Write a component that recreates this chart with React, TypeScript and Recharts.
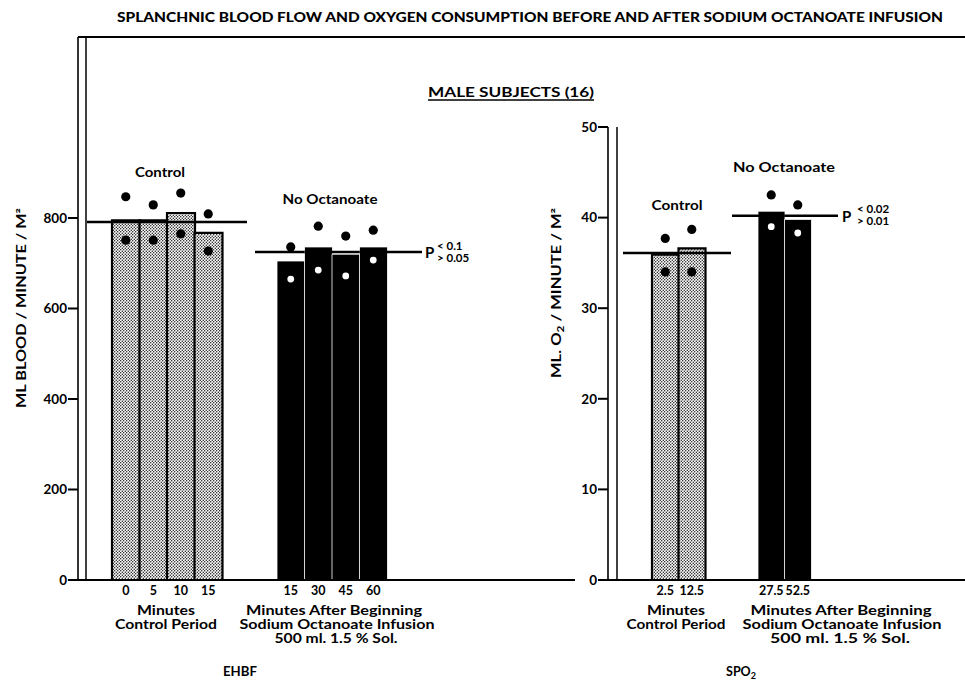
import React from 'react';
import { ComposedChart, Bar, Cell, Line, XAxis, YAxis } from 'recharts';

// EHBF panel (ml blood / minute / m2)
const ehbfControlMinutes = ['0', '5', '10', '15'];
const ehbfControlMean = [795, 795, 811, 767];
const ehbfControlHigh = [847, 829, 855, 809];
const ehbfControlLow = [751, 751, 765, 727];
const ehbfOctMinutes = ['15', '30', '45', '60'];
const ehbfOctMean = [705, 736, 720, 736];
const ehbfOctHigh = [736, 782, 760, 773];
const ehbfOctLow = [665, 685, 672, 707];
const ehbfControlLevel = 791;
const ehbfOctLevel = 725;
const ehbfTicks = [0, 200, 400, 600, 800];

// SPO2 panel (ml O2 / minute / m2)
const spo2ControlMinutes = ['2.5', '12.5'];
const spo2ControlMean = [35.9, 36.6];
const spo2ControlHigh = [37.7, 38.7];
const spo2ControlLow = [34.0, 34.0];
const spo2OctMinutes = ['27.5', '52.5'];
const spo2OctMean = [40.7, 39.8];
const spo2OctHigh = [42.5, 41.4];
const spo2OctLow = [39.0, 38.3];
const spo2ControlLevel = 36.1;
const spo2OctLevel = 40.2;
const spo2Ticks = [0, 10, 20, 30, 40, 50];

const FONT = 'Lato, "DejaVu Sans", sans-serif';
const H = 682;

type Row = {
  key: string; label: string; group: string; first: boolean; last: boolean;
  mean: number | null; hi: number | null; lo: number | null; level: number | null;
};

function buildRows(cMin: string[], cMean: number[], cHi: number[], cLo: number[], cLevel: number,
                   oMin: string[], oMean: number[], oHi: number[], oLo: number[], oLevel: number): Row[] {
  const rows: Row[] = [];
  cMin.forEach((m, i) => rows.push({
    key: 'c' + i, label: m, group: 'control', first: i === 0, last: i === cMin.length - 1,
    mean: cMean[i], hi: cHi[i], lo: cLo[i], level: cLevel,
  }));
  // two empty slots between the groups
  for (let i = 0; i < 2; i++) rows.push({
    key: 'g' + i, label: '', group: 'gap', first: false, last: false, mean: null, hi: null, lo: null, level: null,
  });
  oMin.forEach((m, i) => rows.push({
    key: 'o' + i, label: m, group: 'octanoate', first: i === 0, last: i === oMin.length - 1,
    mean: oMean[i], hi: oHi[i], lo: oLo[i], level: oLevel,
  }));
  return rows;
}

const ehbfRows = buildRows(ehbfControlMinutes, ehbfControlMean, ehbfControlHigh, ehbfControlLow, ehbfControlLevel,
  ehbfOctMinutes, ehbfOctMean, ehbfOctHigh, ehbfOctLow, ehbfOctLevel);
const spo2Rows = buildRows(spo2ControlMinutes, spo2ControlMean, spo2ControlHigh, spo2ControlLow, spo2ControlLevel,
  spo2OctMinutes, spo2OctMean, spo2OctHigh, spo2OctLow, spo2OctLevel);

const makeDot = (kind: 'hi' | 'lo') => (props: any) => {
  const { cx, cy, payload, index } = props;
  const k = `${kind}-${index}`;
  if (cx == null || cy == null || payload == null || payload[kind] == null) return <g key={k} />;
  const white = kind === 'lo' && payload.group === 'octanoate';
  return <circle key={k} cx={cx} cy={cy} r={white ? 3.4 : 4.6} fill={white ? '#fff' : '#000'} />;
};

type Ext = Record<string, [number, number]>;

// group mean line: one band-wide piece per bar, stretched past the outer bars of each group
const makeLevel = (band: number, ext: Ext) => (props: any) => {
  const { cx, cy, payload, index } = props;
  const k = `lv-${index}`;
  if (cx == null || cy == null || payload == null || payload.level == null) return <g key={k} />;
  const e = ext[payload.group] || [0, 0];
  const x1 = cx - band / 2 - (payload.first ? e[0] : 0);
  const x2 = cx + band / 2 + (payload.last ? e[1] : 0);
  return <line key={k} x1={x1} x2={x2} y1={cy} y2={cy} stroke="#000" strokeWidth={2.4} />;
};

interface PanelProps {
  rows: Row[];
  ticks: number[];
  domain: [number, number];
  boxLeft: number;
  boxWidth: number;
  plotLeft: number;
  plotTop: number;
  plotBottom: number;
  firstBarX: number;
  band: number;
  ext: Ext;
}

const Panel: React.FC<PanelProps> = ({ rows, ticks, domain, boxLeft, boxWidth, plotLeft, plotTop, plotBottom,
  firstBarX, band, ext }) => {
  const plotRight = boxLeft + boxWidth;
  const xh = 30;
  const catPad = { left: firstBarX - plotLeft, right: plotRight - (firstBarX + band * rows.length) };
  const labelOf: Record<string, string> = {};
  rows.forEach((r) => (labelOf[r.key] = r.label));

  return (
    <div style={{ position: 'absolute', left: boxLeft, top: 0 }}>
      <ComposedChart
        width={boxWidth}
        height={H}
        data={rows}
        margin={{ top: plotTop, right: 0, left: 0, bottom: H - plotBottom - xh }}
        barCategoryGap={0}
        barGap={0}
      >
        <XAxis
          dataKey="key"
          interval={0}
          height={xh}
          padding={catPad}
          tickLine={false}
          tickSize={4}
          stroke="#000"
          axisLine={{ stroke: '#000', strokeWidth: 2 }}
          tickFormatter={(v: string) => labelOf[v]}
          tick={{ fill: '#000', fontSize: 12.5, fontWeight: 700, fontFamily: FONT }}
        />
        <YAxis
          type="number"
          domain={domain}
          ticks={ticks}
          allowDataOverflow
          width={plotLeft - boxLeft}
          tickSize={10}
          tickMargin={1}
          stroke="#000"
          axisLine={{ stroke: '#000', strokeWidth: 1.6 }}
          tickLine={{ stroke: '#000', strokeWidth: 2 }}
          tick={{ fill: '#000', fontSize: 13.5, fontWeight: 700, fontFamily: FONT }}
        />
        <Bar dataKey="mean" isAnimationActive={false}>
          {rows.map((r, i) => (
            <Cell
              key={i}
              fill={r.group === 'control' ? 'url(#stipple)' : '#000'}
              stroke={r.group === 'control' ? '#000' : '#fff'}
              strokeWidth={r.group === 'control' ? 2.2 : 0.8}
            />
          ))}
        </Bar>
        <Line dataKey="level" stroke="none" dot={makeLevel(band, ext)} activeDot={false} isAnimationActive={false} />
        <Line dataKey="hi" stroke="none" dot={makeDot('hi')} activeDot={false} isAnimationActive={false} />
        <Line dataKey="lo" stroke="none" dot={makeDot('lo')} activeDot={false} isAnimationActive={false} />
      </ComposedChart>
    </div>
  );
};

const T: React.FC<{ x: number; y: number; len?: number; size?: number; anchor?: string; weight?: number; children: React.ReactNode }> = ({
  x, y, len, size = 12.5, anchor = 'middle', weight = 700, children,
}) => (
  <text
    x={x}
    y={y}
    textAnchor={anchor as any}
    fontSize={size}
    fontWeight={weight}
    fontFamily={FONT}
    fill="#000"
    textLength={len}
    lengthAdjust={len ? 'spacingAndGlyphs' : undefined}
  >
    {children}
  </text>
);

export default function App() {
  return (
    <div style={{ position: 'absolute', left: 0, top: 0, width: 965, height: H, background: '#fff', overflow: 'hidden' }}>
      <Panel
        rows={ehbfRows}
        ticks={ehbfTicks}
        domain={[0, 1200]}
        boxLeft={0}
        boxWidth={575}
        plotLeft={78}
        plotTop={37}
        plotBottom={580}
        firstBarX={112}
        band={27.5}
        ext={{ control: [25, 25], octanoate: [22, 35] }}
      />
      <Panel
        rows={spo2Rows}
        ticks={spo2Ticks}
        domain={[0, 50]}
        boxLeft={520}
        boxWidth={445}
        plotLeft={608}
        plotTop={127}
        plotBottom={580}
        firstBarX={652}
        band={26.5}
        ext={{ control: [29, 26], octanoate: [26, 27] }}
      />
      <svg width={965} height={H} style={{ position: 'absolute', left: 0, top: 0, pointerEvents: 'none' }}>
        <defs>
          <pattern id="stipple" width={3} height={3} patternUnits="userSpaceOnUse">
            <rect width={3} height={3} fill="#fff" />
            <circle cx={0.75} cy={0.75} r={0.7} fill="#000" />
            <circle cx={2.25} cy={2.25} r={0.7} fill="#000" />
          </pattern>
        </defs>
        {/* frame lines of the scanned figure */}
        <line x1={86} y1={37} x2={86} y2={580} stroke="#000" strokeWidth={1.5} />
        <line x1={78} y1={37} x2={965} y2={37} stroke="#000" strokeWidth={2} />
        <line x1={617} y1={127} x2={617} y2={580} stroke="#000" strokeWidth={1.5} />

        <T x={530} y={22} len={826} size={13} weight={900}>SPLANCHNIC BLOOD FLOW AND OXYGEN CONSUMPTION BEFORE AND AFTER SODIUM OCTANOATE INFUSION</T>
        <T x={511} y={97} len={166} size={12.5}>MALE SUBJECTS (16)</T>
        <line x1={428} y1={100} x2={594} y2={100} stroke="#000" strokeWidth={1.5} />

        <g transform="translate(26,308) rotate(-90)">
          <T x={0} y={0} len={200} size={12.5}>ML BLOOD / MINUTE / M²</T>
        </g>
        <g transform="translate(561,293) rotate(-90)">
          <text x={0} y={0} textAnchor="middle" fontSize={12.5} fontWeight={700} fontFamily={FONT} fill="#000"
            textLength={170} lengthAdjust="spacingAndGlyphs">
            ML. O<tspan fontSize={9} dy={3}>2</tspan><tspan dy={-3}> / MINUTE / M²</tspan>
          </text>
        </g>

        <T x={160} y={177} len={50}>Control</T>
        <T x={330} y={204} len={95}>No Octanoate</T>
        <T x={677} y={210} len={51}>Control</T>
        <T x={784} y={172} len={102}>No Octanoate</T>

        <T x={425} y={258} size={15} anchor="start">P</T>
        <T x={437} y={250} size={11.5} anchor="start">{'< 0.1'}</T>
        <T x={437} y={262} size={11.5} anchor="start">{'> 0.05'}</T>
        <T x={842} y={222} size={15} anchor="start">P</T>
        <T x={857} y={213} size={11.5} anchor="start">{'< 0.02'}</T>
        <T x={857} y={225} size={11.5} anchor="start">{'> 0.01'}</T>

        <T x={166} y={615} len={58}>Minutes</T>
        <T x={166} y={629} len={102}>Control Period</T>
        <T x={334} y={615} len={176}>Minutes After Beginning</T>
        <T x={337} y={629} len={195}>Sodium Octanoate Infusion</T>
        <T x={336} y={643} len={123}>500 ml. 1.5 % Sol.</T>

        <T x={676} y={615} len={58}>Minutes</T>
        <T x={676} y={629} len={99}>Control Period</T>
        <T x={841} y={615} len={181}>Minutes After Beginning</T>
        <T x={842} y={629} len={199}>Sodium Octanoate Infusion</T>
        <T x={840} y={643} len={140}>500 ml. 1.5 % Sol.</T>

        <T x={240} y={676} len={34}>EHBF</T>
        <text x={741} y={676} textAnchor="middle" fontSize={12.5} fontWeight={700} fontFamily={FONT} fill="#000">
          SPO<tspan fontSize={9} dy={3}>2</tspan>
        </text>
      </svg>
    </div>
  );
}
